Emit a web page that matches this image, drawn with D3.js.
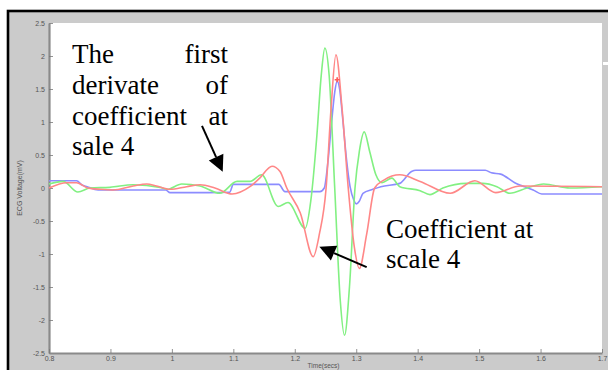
<!DOCTYPE html>
<html><head><meta charset="utf-8">
<script src="https://cdn.jsdelivr.net/npm/d3@7"></script>
<style>
html,body{margin:0;padding:0;background:#fff;} svg{display:block;}
.ann text{font-family:"Liberation Serif","Times New Roman",serif;font-size:27px;fill:#000;}
.small{font-family:"Liberation Sans",Arial,sans-serif;}
</style>
</head><body>
<svg id="c" width="608" height="370"></svg>
<script>
// Axis ticks
const xTicks = [0.8, 0.9, 1, 1.1, 1.2, 1.3, 1.4, 1.5, 1.6, 1.7];
const yTicks = [2.5, 2, 1.5, 1, 0.5, 0, -0.5, -1, -1.5, -2, -2.5];

// Original ECG (blue)
const blueT = [0.80, 0.845, 0.853, 0.862, 0.88, 0.99, 0.997, 1.06, 1.094, 1.100, 1.174, 1.184, 1.241, 1.248, 1.254, 1.260, 1.265, 1.269, 1.273, 1.278, 1.284, 1.290, 1.296, 1.300, 1.305, 1.311, 1.327, 1.340, 1.371, 1.390, 1.397, 1.510, 1.520, 1.535, 1.558, 1.588, 1.602, 1.700];
const blueV = [0.11, 0.11, 0.05, 0.02, -0.03, -0.03, -0.07, -0.07, -0.065, 0.055, 0.055, -0.055, -0.055, 0.0, 0.4, 1.0, 1.45, 1.62, 1.5, 1.05, 0.45, 0.02, -0.18, -0.24, -0.2, -0.08, -0.02, 0.02, 0.07, 0.25, 0.27, 0.27, 0.23, 0.21, 0.08, -0.03, -0.09, -0.09];

// Wavelet coefficient at scale 4 (red)
const redT = [0.80, 0.829, 0.845, 0.863, 0.883, 0.904, 0.937, 0.959, 0.975, 0.997, 1.024, 1.046, 1.07, 1.098, 1.127, 1.143, 1.163, 1.176, 1.187, 1.209, 1.230, 1.240, 1.251, 1.259, 1.267, 1.277, 1.287, 1.297, 1.305, 1.317, 1.330, 1.345, 1.371, 1.404, 1.453, 1.493, 1.527, 1.567, 1.700];
const redV = [0.0, 0.08, 0.08, 0.0, -0.02, -0.03, 0.03, 0.06, 0.03, -0.02, 0.02, 0.05, 0.0, -0.09, 0.02, 0.15, 0.33, 0.25, 0.0, -0.38, -1.04, -0.7, 0.0, 1.2, 2.02, 1.2, 0.0, -0.9, -1.22, -0.7, 0.0, 0.12, 0.2, 0.1, -0.08, 0.11, -0.07, 0.03, 0.02];

// First derivative of the scale-4 coefficient (green)
const greenT = [0.80, 0.823, 0.847, 0.867, 0.899, 0.937, 0.981, 0.992, 1.016, 1.046, 1.078, 1.106, 1.127, 1.146, 1.173, 1.189, 1.217, 1.226, 1.236, 1.243, 1.249, 1.256, 1.265, 1.274, 1.281, 1.289, 1.298, 1.305, 1.313, 1.322, 1.332, 1.342, 1.358, 1.371, 1.404, 1.420, 1.441, 1.480, 1.506, 1.529, 1.550, 1.578, 1.605, 1.648, 1.700];
const greenV = [0.06, 0.1, -0.06, 0.0, 0.01, 0.05, 0.01, -0.02, 0.06, 0.03, -0.08, 0.1, 0.1, 0.2, -0.28, -0.22, -0.61, -0.2, 0.8, 1.7, 2.12, 1.7, 0.0, -1.7, -2.23, -1.5, 0.0, 0.55, 0.85, 0.55, 0.2, 0.08, 0.15, 0.02, -0.04, -0.1, 0.0, 0.07, 0.07, 0.02, -0.08, 0.0, 0.06, 0.0, 0.02];

// Detected R peak
const peakT = [1.269];
const peakV = [1.64];

const svg = d3.select("#c");

// Figure background and frame
svg.append("rect").attr("x", 8).attr("y", 11).attr("width", 640).attr("height", 400)
  .attr("fill", "#cbcbcb").attr("stroke", "#000").attr("stroke-width", 2.6);

const x = d3.scaleLinear().domain([0.8, 1.7]).range([49, 602]);
const y = d3.scaleLinear().domain([-2.5, 2.5]).range([353, 23]);

// Plot area
svg.append("rect").attr("x", x(0.8)).attr("y", y(2.5))
  .attr("width", x(1.7) - x(0.8)).attr("height", y(-2.5) - y(2.5)).attr("fill", "#fff");
svg.append("rect").attr("x", 603).attr("y", 62).attr("width", 5).attr("height", 3).attr("fill", "#fff");

const fmt = d => String(d);
const yAxis = svg.append("g").attr("transform", `translate(${x(0.8)},0)`)
  .call(d3.axisLeft(y).tickValues(yTicks).tickFormat(fmt).tickSizeInner(-4).tickSizeOuter(0).tickPadding(4));
const xAxis = svg.append("g").attr("transform", `translate(0,${y(-2.5)})`)
  .call(d3.axisBottom(x).tickValues(xTicks).tickFormat(fmt).tickSizeInner(-4).tickSizeOuter(0).tickPadding(3));
[yAxis, xAxis].forEach(g => {
  g.attr("font-family", null).attr("font-size", null);
  g.select(".domain").attr("stroke", "#8a8a8a").attr("stroke-width", 2.2);
  g.selectAll(".tick line").attr("stroke", "#777").attr("stroke-width", 0.8);
  g.selectAll(".tick text").attr("class", "small").attr("fill", "#555").style("font-size", "7px");
});

svg.append("text").attr("class", "small").attr("transform", `translate(22,${y(0)}) rotate(-90)`)
  .attr("text-anchor", "middle").style("font-size", "7px").attr("fill", "#555")
  .text("ECG Voltage(mV)");
svg.append("text").attr("class", "small").attr("x", (x(0.8) + x(1.7)) / 2 - 2).attr("y", 368)
  .attr("text-anchor", "middle").style("font-size", "6.5px").attr("fill", "#555")
  .text("Time(secs)");

// Series
const line = d3.line().x(d => x(d[0])).y(d => y(d[1])).curve(d3.curveMonotoneX);
const series = [
  { t: blueT, v: blueV, color: "#8c8cff" },
  { t: greenT, v: greenV, color: "#82f082" },
  { t: redT, v: redV, color: "#ff8787" }
];
series.forEach(s => {
  svg.append("path").datum(s.t.map((t, i) => [t, s.v[i]]))
    .attr("d", line).attr("fill", "none").attr("stroke", s.color)
    .attr("stroke-width", 1.6).attr("stroke-linejoin", "round");
});
peakT.forEach((t, i) => {
  svg.append("path").attr("d", d3.symbol(d3.symbolCross, 14)())
    .attr("transform", `translate(${x(t)},${y(peakV[i])})`).attr("fill", "#ff5a5a");
});

// Annotations
const ann = svg.append("g").attr("class", "ann");
const leftX = 72, rightX = 228;
const rows = [["The", "first", 63], ["derivate", "of", 94], ["coefficient", "at", 124.5], ["sale 4", "", 155]];
rows.forEach(r => {
  ann.append("text").attr("x", leftX).attr("y", r[2]).text(r[0]);
  if (r[1]) ann.append("text").attr("x", rightX).attr("y", r[2]).attr("text-anchor", "end").text(r[1]);
});
ann.append("text").attr("x", 386).attr("y", 238).text("Coefficient at");
ann.append("text").attr("x", 386).attr("y", 268).text("scale 4");

function arrow(t0, v0, t1, v1) {
  const x0 = x(t0), y0 = y(v0), x1 = x(t1), y1 = y(v1);
  const a = Math.atan2(y1 - y0, x1 - x0), L = 16, W = 8;
  const bx = x1 - L * Math.cos(a), by = y1 - L * Math.sin(a);
  svg.append("line").attr("x1", x0).attr("y1", y0).attr("x2", bx).attr("y2", by)
    .attr("stroke", "#000").attr("stroke-width", 2);
  svg.append("path").attr("fill", "#000").attr("d",
    `M${x1},${y1}L${bx - W * Math.sin(a)},${by + W * Math.cos(a)}L${bx + W * Math.sin(a)},${by - W * Math.cos(a)}Z`);
}
arrow(1.049, 0.94, 1.0827, 0.247);
arrow(1.317, -1.20, 1.240, -0.89);
</script>
</body></html>
